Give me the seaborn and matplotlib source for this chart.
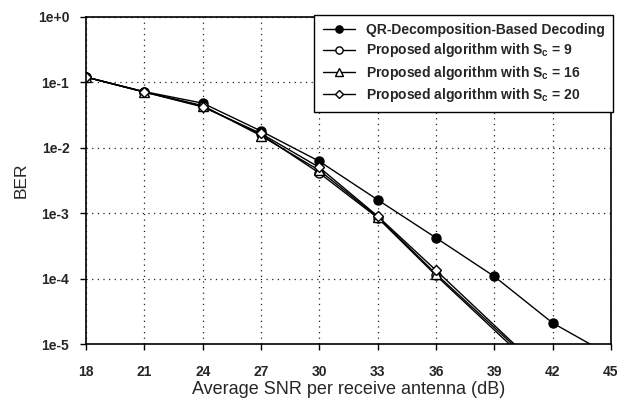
import matplotlib
matplotlib.use("Agg")
import numpy as np
import pandas as pd
import seaborn as sns
import matplotlib.pyplot as plt
from matplotlib import ticker

# -------------------------------------------------------------------------
# Data
SNR_QR = [18, 21, 24, 27, 30, 33, 36, 39, 42, 45]
BER_QR = [0.120, 0.072, 0.048, 0.018, 0.0062, 0.0016, 0.00042, 0.000108, 0.0000210, 0.0000066]

SNR_PROP = [18, 21, 24, 27, 30, 33, 36, 42]
BER_SC9 = [0.120, 0.071, 0.043, 0.0160, 0.0041, 0.00085, 0.000112, 0.0000024]
BER_SC16 = [0.120, 0.071, 0.044, 0.0152, 0.0045, 0.00088, 0.000118, 0.0000027]
BER_SC20 = [0.120, 0.071, 0.042, 0.0165, 0.0050, 0.00090, 0.000134, 0.0000028]

LABELS = [
    "QR-Decomposition-Based Decoding",
    "Proposed algorithm with S$_\\mathrm{c}$ = 9",
    "Proposed algorithm with S$_\\mathrm{c}$ = 16",
    "Proposed algorithm with S$_\\mathrm{c}$ = 20",
]
X_TICKS = [18, 21, 24, 27, 30, 33, 36, 39, 42, 45]
Y_TICKS = [1e0, 1e-1, 1e-2, 1e-3, 1e-4, 1e-5]
Y_TICK_LABELS = ["1e+0", "1e-1", "1e-2", "1e-3", "1e-4", "1e-5"]

sns.set_style("white")
plt.rcParams["font.family"] = ["Liberation Sans", "DejaVu Sans"]
plt.rcParams["font.weight"] = "bold"
plt.rcParams["mathtext.fontset"] = "custom"
plt.rcParams["mathtext.rm"] = "Liberation Sans:bold"

series = [
    (SNR_QR, BER_QR, "o", "black"),
    (SNR_PROP, BER_SC9, "o", "white"),
    (SNR_PROP, BER_SC16, "^", "white"),
    (SNR_PROP, BER_SC20, "D", "white"),
]

fig = plt.figure(figsize=(6.19, 4.01), dpi=100)
ax = fig.add_axes([0.139, 0.142, 0.848, 0.816])

for (x, y, marker, face), label in zip(series, LABELS):
    df = pd.DataFrame({"snr": x, "ber": y})
    ms = 6.5 if marker != "D" else 5.5
    sns.lineplot(
        data=df, x="snr", y="ber", ax=ax, color="black", linewidth=1.0,
        marker=marker, markersize=ms, markerfacecolor=face,
        markeredgecolor="black", markeredgewidth=1.0, label=label,
    )

ax.set_yscale("log")
ax.set_xlim(18, 45)
ax.set_ylim(1e-5, 1e0)
ax.set_xticks(X_TICKS)
ax.set_yticks(Y_TICKS)
ax.set_yticklabels(Y_TICK_LABELS)
ax.yaxis.set_minor_locator(ticker.NullLocator())
ax.tick_params(axis="both", labelsize=10, length=4, width=1, direction="out",
               color="black", bottom=True, left=True)
ax.tick_params(axis="x", pad=11)
ax.tick_params(axis="y", pad=8)

ax.grid(True, which="major", linestyle=(0, (1, 3.5)), color="#222222", linewidth=0.9)
for s in ax.spines.values():
    s.set_color("black")
    s.set_linewidth(1.2)

ax.set_xlabel("Average SNR per receive antenna (dB)", fontsize=13,
              fontweight="normal", labelpad=1.5)
ax.set_ylabel("BER", fontsize=12.5, fontweight="normal", labelpad=7)

legend = ax.legend(
    loc="upper right", bbox_to_anchor=(1.004, 1.006), borderaxespad=0,
    fontsize=10, handlelength=2.3, fancybox=False, framealpha=1,
    edgecolor="black", labelspacing=0.3, borderpad=0.6, markerscale=0.8,
)
legend.get_frame().set_linewidth(1.0)

plt.savefig("out.png", dpi=100)
